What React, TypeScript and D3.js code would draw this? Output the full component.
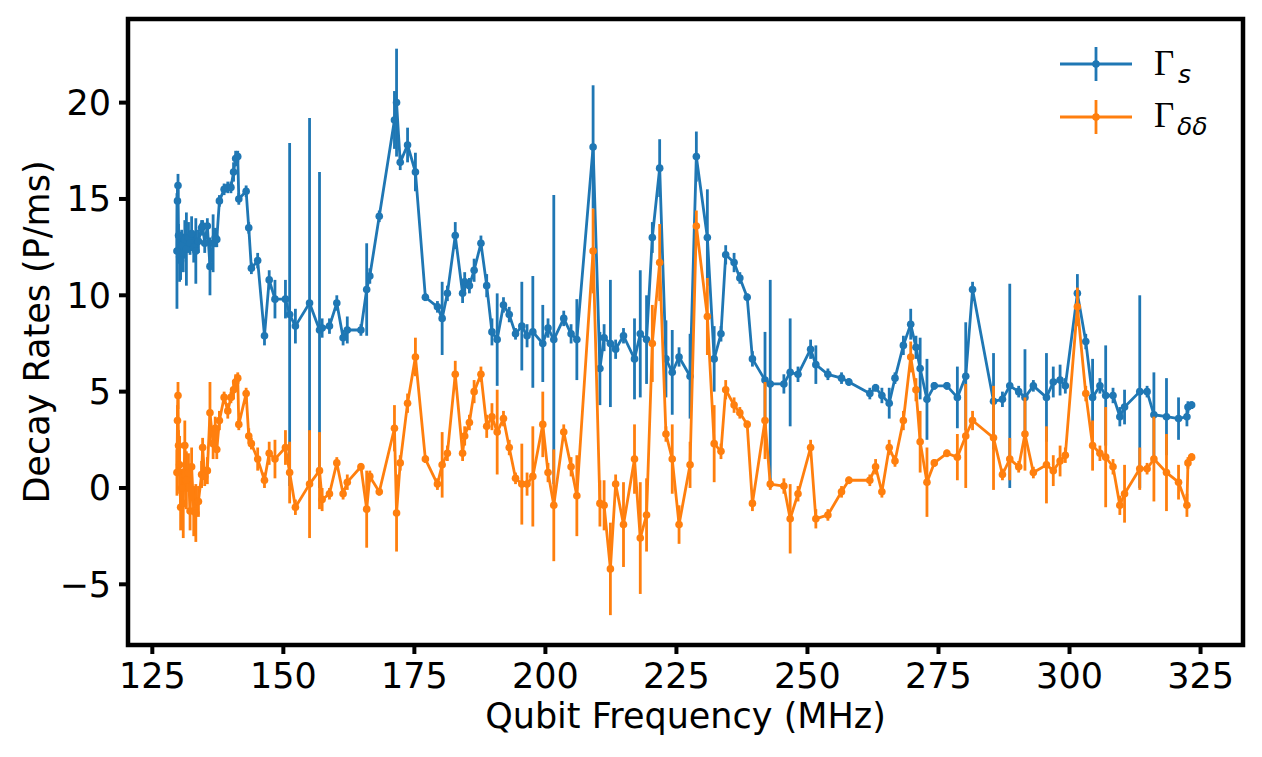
import * as d3 from "d3";

// qubit frequency (MHz), shared by both series
const freq = [
  129.7, 129.8, 129.9, 130.0, 130.2, 130.4, 130.6, 130.9, 131.2, 131.5,
  131.9, 132.2, 132.5, 132.9, 133.3, 133.8, 134.4, 134.6, 135.0, 135.5,
  136.0, 136.6, 137.0, 137.3, 137.8, 138.7, 139.4, 140.0, 140.5, 140.9,
  141.3, 141.5, 142.9, 143.4, 143.9, 145.1, 146.4, 147.3, 148.4, 150.4,
  151.2, 152.3, 155.0, 156.9, 157.4, 158.8, 160.2, 161.4, 162.2, 164.8,
  165.9, 166.5, 168.3, 171.2, 171.6, 172.3, 173.7, 175.2, 177.1, 179.4,
  180.3, 181.3, 182.8, 184.2, 184.6, 185.5, 186.4, 187.7, 188.8, 189.8,
  190.8, 192.0, 193.1, 194.3, 195.5, 196.5, 197.6, 199.5, 200.5, 201.6,
  203.5, 204.9, 206.0, 209.1, 210.4, 211.2, 212.4, 213.4, 214.9, 217.0,
  218.1, 219.3, 220.4, 221.8, 223.0, 224.2, 225.5, 227.6, 228.8, 230.9,
  232.2, 233.5, 234.4, 236.0, 237.1, 238.5, 239.5, 241.9, 242.9, 245.5,
  246.7, 248.2, 250.6, 251.6, 253.9, 256.5, 257.9, 261.9, 263.0, 264.2,
  265.6, 266.7, 268.3, 269.7, 270.7, 271.5, 272.8, 274.2, 276.6, 278.6,
  280.2, 281.5, 285.5, 287.2, 288.6, 290.3, 291.5, 293.1, 295.6, 296.9,
  298.2, 299.2, 301.5, 303.1, 304.4, 305.8, 306.9, 308.3, 309.6, 310.5,
  313.4, 314.8, 316.1, 318.5, 320.8, 322.4, 322.6, 323.3,
];

// Gamma_s (P/ms) and its error
const gammaS = [
  12.3, 14.9, 15.7, 13.1, 12.0, 11.8, 12.6, 12.2, 12.9, 12.4,
  13.0, 12.7, 13.2, 12.5, 12.3, 12.8, 13.5, 13.6, 12.7, 13.6,
  11.5, 12.7, 13.0, 12.9, 14.9, 15.5, 15.6, 15.6, 16.4, 17.1,
  17.2, 15.0, 15.4, 13.5, 11.4, 11.8, 7.9, 10.8, 9.8, 9.8,
  9.0, 8.4, 9.6, 8.2, 8.3, 8.4, 9.6, 7.8, 8.2, 8.2,
  10.3, 11.0, 14.1, 19.1, 20.0, 16.9, 17.8, 16.4, 9.9, 9.4,
  8.8, 10.1, 13.1, 10.1, 10.7, 10.5, 11.3, 12.7, 10.5, 8.1,
  7.7, 9.5, 9.0, 8.0, 8.4, 7.9, 8.1, 7.5, 8.3, 7.7,
  8.8, 8.0, 7.7, 17.7, 6.2, 7.8, 7.5, 7.2, 7.9, 6.7,
  8.0, 7.7, 13.0, 16.6, 6.7, 6.0, 6.8, 5.8, 17.2, 13.0,
  6.7, 8.0, 12.1, 11.7, 10.9, 9.9, 6.7, 5.6, 5.4, 5.4,
  6.0, 5.9, 7.2, 6.4, 5.9, 5.7, 5.5, 4.9, 5.2, 4.8,
  4.4, 5.7, 7.4, 8.5, 7.3, 6.2, 4.6, 5.3, 5.3, 4.7,
  5.8, 10.3, 4.5, 4.6, 5.3, 5.0, 4.7, 5.3, 4.7, 5.5,
  5.6, 5.3, 10.1, 7.6, 4.7, 5.3, 4.8, 4.8, 3.7, 4.2,
  5.0, 5.0, 3.8, 3.7, 3.6, 3.7, 4.2, 4.3,
];
const gammaSErr = [
  3.0, 0.8, 0.6, 0.6, 1.3, 1.0, 0.8, 1.0, 1.0, 1.9,
  0.8, 0.6, 0.9, 0.8, 1.7, 0.6, 0.4, 0.3, 0.5, 0.4,
  1.5, 1.5, 0.5, 0.4, 0.3, 0.3, 0.3, 0.3, 0.5, 0.4,
  0.3, 0.3, 0.3, 0.3, 0.3, 0.4, 0.5, 0.5, 1.0, 1.0,
  8.9, 0.9, 9.6, 8.2, 0.5, 0.4, 0.4, 0.4, 0.7, 0.3,
  2.4, 0.4, 0.3, 1.5, 2.8, 0.4, 0.9, 1.0, 0.2, 0.3,
  1.9, 0.4, 0.7, 0.5, 0.5, 0.4, 0.6, 0.4, 0.6, 0.7,
  2.4, 0.4, 0.4, 0.3, 2.3, 0.6, 2.9, 2.0, 0.5, 7.5,
  0.4, 0.5, 2.1, 3.2, 1.9, 0.7, 3.3, 0.5, 0.4, 2.1,
  3.3, 2.3, 0.8, 1.5, 2.0, 2.2, 0.5, 2.2, 1.3, 2.5,
  1.7, 0.4, 0.5, 0.5, 0.3, 0.2, 0.4, 2.5, 5.4, 0.5,
  2.8, 0.4, 0.5, 1.0, 0.3, 0.3, 0.2, 0.3, 0.2, 0.4,
  0.8, 0.3, 0.5, 0.8, 0.6, 1.6, 2.1, 0.2, 0.2, 1.6,
  2.8, 0.4, 2.5, 0.4, 5.3, 0.3, 2.5, 0.3, 2.3, 0.8,
  0.8, 0.4, 1.0, 0.4, 2.0, 0.4, 2.6, 0.4, 0.5, 0.9,
  5.0, 0.3, 2.2, 2.0, 1.1, 0.5, 0.3, 0.2,
];

// Gamma_dd (P/ms) and its error
const gammaDD = [
  0.8, 3.5, 4.8, 2.2, 1.2, -1.0, 0.0, -0.8, 2.2, 0.4,
  0.8, -1.2, 1.1, -1.2, -1.3, -0.7, 0.7, 2.1, 0.6, 0.9,
  3.9, 2.3, 3.1, 2.0, 3.5, 4.7, 4.0, 4.7, 5.1, 5.5,
  5.7, 3.3, 4.9, 2.7, 2.3, 1.5, 0.4, 1.8, 1.5, 2.1,
  0.8, -1.0, 0.2, 0.9, -0.6, -0.3, 1.3, -0.3, 0.3, 1.1,
  -1.1, 0.6, -0.2, 3.1, -1.3, 1.3, 4.4, 6.8, 1.5, 0.2,
  1.2, 1.8, 5.9, 1.8, 2.7, 3.4, 5.0, 5.9, 3.2, 3.7,
  2.9, 3.6, 2.1, 0.5, 0.2, 0.2, 0.6, 3.3, 0.8, -0.9,
  2.9, 1.1, -0.4, 12.3, -0.8, -0.9, -4.2, 0.2, -1.9, 1.5,
  -2.6, -1.4, 7.5, 11.7, 2.8, 1.5, -1.9, 1.2, 13.6, 8.9,
  2.3, 1.9, 5.1, 4.3, 3.9, 3.3, -0.8, 3.5, 0.2, 0.1,
  -1.6, -0.3, 2.1, -1.6, -1.4, -0.2, 0.4, 0.4, 1.1, -0.2,
  2.1, 1.4, 3.5, 6.8, 5.1, 2.4, 0.3, 1.3, 1.8, 1.6,
  2.7, 3.5, 2.6, 0.7, 1.5, 1.1, 2.8, 0.8, 1.2, 0.9,
  1.4, 1.7, 9.4, 4.9, 2.2, 1.8, 1.6, 1.1, -0.9, -0.3,
  1.0, 1.0, 1.5, 0.8, 0.3, -0.9, 1.3, 1.6,
];
const gammaDDErr = [
  1.2, 0.8, 0.7, 0.8, 1.5, 1.2, 1.0, 1.8, 1.3, 1.5,
  1.0, 1.0, 1.0, 1.3, 1.5, 0.8, 0.7, 0.5, 0.5, 0.7,
  1.6, 0.8, 0.6, 0.5, 0.5, 0.3, 0.4, 0.3, 0.5, 0.4,
  0.3, 0.3, 0.3, 0.4, 0.3, 0.6, 0.4, 0.6, 1.0, 0.9,
  1.6, 0.4, 2.8, 2.0, 0.6, 0.3, 0.3, 0.3, 0.4, 0.2,
  2.0, 0.3, 0.2, 1.2, 2.0, 0.4, 0.5, 1.0, 0.2, 0.3,
  1.7, 0.4, 0.7, 0.4, 0.5, 0.4, 0.6, 0.4, 0.6, 0.7,
  2.2, 0.4, 0.4, 0.3, 2.1, 0.6, 2.6, 1.7, 0.5, 2.9,
  0.4, 0.5, 2.1, 2.2, 1.2, 1.3, 2.4, 0.5, 2.2, 1.8,
  2.9, 1.9, 2.0, 2.0, 0.4, 1.8, 1.0, 1.2, 0.8, 2.0,
  2.0, 0.4, 0.5, 0.4, 0.3, 0.2, 0.4, 2.0, 0.3, 0.4,
  1.8, 0.4, 0.4, 0.5, 0.3, 0.3, 0.2, 0.3, 0.4, 0.3,
  0.4, 0.3, 0.5, 0.8, 0.6, 1.6, 1.8, 0.2, 0.2, 1.2,
  2.7, 0.5, 2.7, 0.3, 1.1, 0.3, 1.9, 0.3, 2.0, 0.8,
  0.8, 0.4, 1.0, 0.4, 1.3, 0.4, 2.6, 0.4, 0.5, 1.5,
  1.1, 0.3, 2.2, 2.0, 0.9, 0.6, 0.3, 0.2,
];

const xTicks = [125, 150, 175, 200, 225, 250, 275, 300, 325];
const yTicks = [-5, 0, 5, 10, 15, 20];

const W = 1262;
const H = 757;
const frame = { left: 128, right: 1243, top: 19, bottom: 645 };
const BLUE = "#1f77b4";
const ORANGE = "#ff7f0e";
const LW = 2.8;
const MR = 3.8;

const x = d3.scaleLinear().domain([120.36, 333.1]).range([frame.left, frame.right]);
const y = d3.scaleLinear().domain([-8.15, 24.34]).range([frame.bottom, frame.top]);

const line = d3
  .line<number>()
  .x((_, i) => x(freq[i]))
  .y((d) => y(d));

function Series({ vals, errs, color }: { vals: number[]; errs: number[]; color: string }) {
  return (
    <g>
      {vals.map((v, i) => (
        <line
          key={"e" + i}
          x1={x(freq[i])}
          x2={x(freq[i])}
          y1={y(v - errs[i])}
          y2={y(v + errs[i])}
          stroke={color}
          strokeWidth={LW}
        />
      ))}
      <path d={line(vals) ?? ""} fill="none" stroke={color} strokeWidth={LW} strokeLinejoin="round" />
      {vals.map((v, i) => (
        <circle key={"m" + i} cx={x(freq[i])} cy={y(v)} r={MR} fill={color} />
      ))}
    </g>
  );
}

function LegendItem({ yPos, color }: { yPos: number; color: string }) {
  return (
    <g>
      <line x1={1060} x2={1132} y1={yPos} y2={yPos} stroke={color} strokeWidth={LW} />
      <line x1={1096} x2={1096} y1={yPos - 17} y2={yPos + 17} stroke={color} strokeWidth={LW} />
      <circle cx={1096} cy={yPos} r={MR} fill={color} />
    </g>
  );
}

export default function App() {
  const fmt = (v: number) => String(v).replace("-", "\u2212");
  return (
    <svg
      width={W}
      height={H}
      style={{ position: "absolute", left: 0, top: 0, background: "#fff" }}
      fontFamily="DejaVu Sans"
    >
      <rect width={W} height={H} fill="#fff" />
      <defs>
        <clipPath id="plot">
          <rect x={frame.left} y={frame.top} width={frame.right - frame.left} height={frame.bottom - frame.top} />
        </clipPath>
      </defs>

      <g clipPath="url(#plot)">
        <Series vals={gammaS} errs={gammaSErr} color={BLUE} />
        <Series vals={gammaDD} errs={gammaDDErr} color={ORANGE} />
      </g>

      {/* frame */}
      <rect
        x={frame.left}
        y={frame.top}
        width={frame.right - frame.left}
        height={frame.bottom - frame.top}
        fill="none"
        stroke="#000"
        strokeWidth={4.5}
      />

      {/* x axis */}
      {xTicks.map((t) => (
        <g key={"x" + t}>
          <line x1={x(t)} x2={x(t)} y1={frame.bottom} y2={frame.bottom + 9} stroke="#000" strokeWidth={4} />
          <text x={x(t)} y={688} fontSize={35} textAnchor="middle" fill="#000">
            {t}
          </text>
        </g>
      ))}

      {/* y axis */}
      {yTicks.map((t) => (
        <g key={"y" + t}>
          <line x1={frame.left - 9} x2={frame.left} y1={y(t)} y2={y(t)} stroke="#000" strokeWidth={4} />
          <text x={111} y={y(t) + 12.5} fontSize={35} textAnchor="end" fill="#000">
            {fmt(t)}
          </text>
        </g>
      ))}

      <text x={(frame.left + frame.right) / 2} y={728} fontSize={35} textAnchor="middle" fill="#000">
        Qubit Frequency (MHz)
      </text>
      <text
        transform={`translate(49,${(frame.top + frame.bottom) / 2}) rotate(-90)`}
        fontSize={35}
        textAnchor="middle"
        fill="#000"
      >
        Decay Rates (P/ms)
      </text>

      {/* legend */}
      <LegendItem yPos={64} color={BLUE} />
      <LegendItem yPos={117} color={ORANGE} />
      <text x={1154} y={75} fontSize={35} fontFamily="Liberation Serif" fill="#000">
        Γ
      </text>
      <text x={1178} y={83} fontSize={25} fontStyle="italic" fill="#000">
        s
      </text>
      <text x={1154} y={127} fontSize={35} fontFamily="Liberation Serif" fill="#000">
        Γ
      </text>
      <text x={1177} y={135} fontSize={25} fontStyle="italic" fill="#000">
        δδ
      </text>
    </svg>
  );
}
